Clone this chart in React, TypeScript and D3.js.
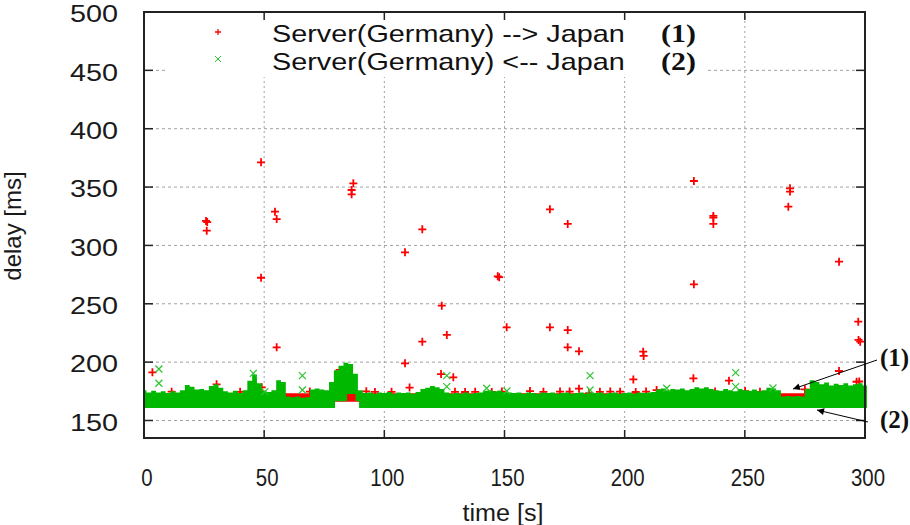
import * as d3 from "d3";

const W = 910;
const H = 525;

// axis ticks
const xTicks = [0, 50, 100, 150, 200, 250, 300];
const yTicks = [150, 200, 250, 300, 350, 400, 450, 500];

// upper edge of the dense green band (Japan -> Germany), one value every 2 s from t = 0
const bandStep = 2;
const greenTop = [
  176, 174, 175.5, 174, 175, 173.5, 175, 174, 176, 180.5,
  179, 176.5, 177, 176, 179.5, 181, 178, 175, 174, 175.5,
  173.5, 176, 184, 189.5, 182, 175.5, 174.5, 176, 184.5, 183,
  170.5, 170, 170.5, 169.5, 170, 176.5, 177.5, 176.5, 176, 183,
  193, 197, 199.5, 198.5, 190, 176, 173.5, 174, 173, 174,
  173.5, 174.5, 173, 174, 173.5, 174, 173, 174.5, 177, 178,
  179.5, 178.5, 177, 174, 173, 173.5, 173, 174, 173, 173.5,
  174, 175.5, 176, 175, 175.5, 174.5, 174, 173.5, 174, 173,
  174, 173.5, 173, 174, 173.5, 174, 173, 173.5, 174, 173,
  173.5, 174, 173, 174, 173.5, 174, 173, 173.5, 174, 173,
  173.5, 174, 173, 174, 173.5, 174, 174.5, 176.5, 177.5, 176,
  177, 176.5, 177.5, 176, 177, 178.5, 177.5, 178.5, 177, 176,
  175.5, 177, 176, 175, 177, 176, 175.5, 176.5, 175, 176,
  178, 177.5, 176, 170.5, 171, 170.5, 171, 170.5, 177, 184.5,
  183, 181, 182.5, 180, 181.5, 180.5, 182, 180, 181, 182,
  180,
];
// lower edge of the green band: [time, delay]
const greenBottom: [number, number][] = [
  [0, 160.7], [79.5, 160.7], [79.5, 166.5], [84.5, 166.5], [84.5, 172.8],
  [88, 172.8], [88, 166.5], [89.5, 166.5], [89.5, 160.7], [300.8, 160.7],
];
// dense red band (Germany -> Japan): [time, low, high]
const redBand: [number, number, number][] = [
  [0, 166, 173.3], [300, 166, 173.3],
];

// red samples just above the band
const redNear: [number, number][] = [
  [40, 174.6], [69, 174.8], [96.1, 174.5], [103, 174.6], [129.4, 174.6],
  [133.6, 174.4], [137.8, 174.6], [144.7, 174.4], [148.9, 174.8], [160.6, 175.2],
  [166.2, 174.6], [173.1, 174.8], [177.1, 174.8], [185.2, 173.5], [189.7, 174.6],
  [194, 174.8], [198.1, 174.7], [204.6, 174.4], [208.9, 174.8], [237.6, 174.8],
  [250.1, 175.2], [256.3, 174.6],
];
// red outliers (Server(Germany) --> Japan)
const redPoints: [number, number][] = [
  [3.5, 191.3], [11.5, 174.7], [25.8, 321], [26.3, 320], [26.1, 312.6],
  [30.2, 181], [48.7, 371.2], [48.7, 272.3], [49, 178.4], [54.5, 328.9],
  [55.2, 322.6], [55.2, 212.7], [81.4, 193.3], [86.4, 343.8], [86.4, 347.5],
  [87.1, 353.2], [92.5, 175], [108.6, 294.1], [108.6, 199], [110.5, 178.2],
  [115.8, 313.8], [115.8, 217.5], [123.6, 189.8], [123.9, 248.4], [126, 223.3],
  [128.7, 187], [147.2, 273.5], [147.8, 272.8], [150.9, 229.8], [168.9, 330.9],
  [168.9, 229.8], [176.3, 318.4], [176.3, 227.5], [176.3, 212.7], [181, 209.3],
  [181, 177.3], [203.6, 185.2], [207.7, 209], [207.9, 205.3], [213.3, 176.1],
  [228.6, 186.1], [228.8, 355.2], [228.8, 266.7], [236.9, 325.3], [236.9, 323.8],
  [236.9, 318.4], [243.4, 184.1], [268.1, 333.2], [268.8, 348.9], [268.8, 346.1],
  [275, 176.7], [289.2, 286.1], [289.2, 192.4], [296.5, 183.2], [297.6, 183.4],
  [297.2, 234.7], [297.3, 219], [298, 217.5],
];
// green outliers (Server(Germany) <-- Japan)
const greenPoints: [number, number][] = [
  [6.2, 194.1], [6.2, 181.9], [45.5, 190.4], [50.3, 174.7], [65.9, 188.4],
  [65.9, 176.1], [126, 188.4], [126, 179], [142.6, 177.6], [151, 175.3],
  [185.6, 188.4], [185.6, 176.1], [217.5, 177.6], [246.2, 191], [246.2, 179],
  [261.7, 177.8],
];

const legendLabels = ["Server(Germany) --> Japan", "Server(Germany) <-- Japan"];
const legendTags = ["(1)", "(2)"];

const RED = "#ff0000";
const GREEN = "#00b800";
const GREEN_LIGHT = "#2ec42e";
const SANS = "'Liberation Sans', Arial, sans-serif";
const SERIF = "'Liberation Serif', 'Times New Roman', serif";

const plus = "M-4,0H4M0,-4V4";
const cross = "M-3.5,-3.5L3.5,3.5M-3.5,3.5L3.5,-3.5";

export default function App() {
  const x = d3.scaleLinear().domain([0, 300]).range([144, 865]);
  const y = d3.scaleLinear().domain([135, 500]).range([438, 12]);
  const [x0, x1] = x.range();
  const [y0, y1] = y.range();

  const line = d3.line<[number, number]>().x((d) => d[0]).y((d) => d[1]);

  // green band polygon: stepped top edge, then the bottom edge backwards
  const topPts: [number, number][] = [];
  greenTop.forEach((v, i) => {
    const t0 = Math.max(0, i * bandStep - bandStep / 2);
    const t1 = Math.min(300.8, i * bandStep + bandStep / 2);
    topPts.push([x(t0), y(v)], [x(t1), y(v)]);
  });
  const botPts: [number, number][] = greenBottom
    .slice()
    .reverse()
    .map((d) => [x(d[0]), y(d[1])]);
  const greenPath = line([...topPts, ...botPts]) + "Z";

  const redArea = d3
    .area<[number, number, number]>()
    .x((d) => x(d[0]))
    .y0((d) => y(d[1]))
    .y1((d) => y(d[2]))(redBand);

  return (
    <svg width={W} height={H} style={{ display: "block", position: "absolute", left: 0, top: 0 }}>
      <defs>
        <marker id="arr" viewBox="0 0 10 10" refX="10" refY="5" markerWidth="9" markerHeight="7" orient="auto" markerUnits="userSpaceOnUse">
          <path d="M0,0L10,5L0,10Z" fill="#000" />
        </marker>
      </defs>
      <rect width={W} height={H} fill="#fff" />

      {/* grid */}
      <g stroke="#a0a0a0" strokeWidth={1}>
        {yTicks.filter((v) => v !== 500).map((v) => (
          <line key={"gy" + v} x1={x0} x2={x1} y1={y(v)} y2={y(v)} strokeDasharray="3,3" />
        ))}
        {xTicks.filter((v) => v !== 0 && v !== 300).map((v) => (
          <line key={"gx" + v} x1={x(v)} x2={x(v)} y1={y0} y2={y1} strokeDasharray="2,3" />
        ))}
      </g>
      {/* legend box hides the grid */}
      <rect x={165} y={13} width={543} height={64} fill="#fff" />

      {/* series 1 */}
      <path d={redArea ?? ""} fill={RED} />
      <g stroke={RED} strokeWidth={1.8} fill="none">
        {[...redNear, ...redPoints].map((d, i) => (
          <path key={"r" + i} d={plus} transform={`translate(${x(d[0])},${y(d[1])})`} />
        ))}
      </g>

      {/* series 2 */}
      <path d={greenPath} fill={GREEN} />
      <g stroke={GREEN_LIGHT} strokeWidth={1.2} fill="none">
        {greenPoints.map((d, i) => (
          <path key={"g" + i} d={cross} transform={`translate(${x(d[0])},${y(d[1])})`} />
        ))}
      </g>

      {/* frame and ticks */}
      <rect x={x0} y={y1} width={x1 - x0} height={y0 - y1} fill="none" stroke="#222" strokeWidth={2} />
      <g stroke="#222" strokeWidth={1.5}>
        {yTicks.map((v) => (
          <g key={"ty" + v}>
            <line x1={x0} x2={x0 + 9} y1={y(v)} y2={y(v)} />
            <line x1={x1} x2={x1 - 9} y1={y(v)} y2={y(v)} />
          </g>
        ))}
        {xTicks.map((v) => (
          <g key={"tx" + v}>
            <line x1={x(v)} x2={x(v)} y1={y0} y2={y0 - 8} />
            <line x1={x(v)} x2={x(v)} y1={y1} y2={y1 + 8} />
          </g>
        ))}
      </g>

      {/* tick labels */}
      <g fontFamily={SANS} fontSize={24} fill="#1a1a1a">
        {yTicks.map((v) => (
          <text key={"ly" + v} transform={`translate(118,${y(v) + 4}) scale(1.2,1)`} textAnchor="end" dominantBaseline="middle">
            {v}
          </text>
        ))}
        {xTicks.map((v) => (
          <text key={"lx" + v} transform={`translate(${x(v) + 3},486) scale(0.85,1)`} textAnchor="middle">
            {v}
          </text>
        ))}
        <text transform="translate(503,521) scale(1.05,1)" textAnchor="middle">time [s]</text>
        <text transform={`translate(21,${226}) rotate(-90)`} textAnchor="middle">delay [ms]</text>
      </g>

      {/* legend */}
      <path d="M-3,0H3M0,-3V3" transform="translate(218,32)" stroke={RED} strokeWidth={1.3} fill="none" />
      <path d="M-3,-3L3,3M-3,3L3,-3" transform="translate(218,59)" stroke={GREEN_LIGHT} strokeWidth={1} fill="none" />
      {legendLabels.map((s, i) => (
        <g key={"lg" + i}>
          <text transform={`translate(272,${42 + i * 28}) scale(1.2,1)`} fontFamily={SANS} fontSize={24} fill="#111">
            {s}
          </text>
          <text transform={`translate(661,${42 + i * 28}) scale(1.15,1)`} fontFamily={SERIF} fontWeight="bold" fontSize={26} fill="#111">
            {legendTags[i]}
          </text>
        </g>
      ))}

      {/* annotations */}
      <line x1={877} y1={360} x2={793} y2={389} stroke="#000" strokeWidth={1} markerEnd="url(#arr)" />
      <line x1={868} y1={422} x2={817} y2={410} stroke="#000" strokeWidth={1} markerEnd="url(#arr)" />
      <text x={880} y={366} fontFamily={SERIF} fontWeight="bold" fontSize={25} fill="#111">(1)</text>
      <text x={880} y={428} fontFamily={SERIF} fontWeight="bold" fontSize={25} fill="#111">(2)</text>
    </svg>
  );
}
